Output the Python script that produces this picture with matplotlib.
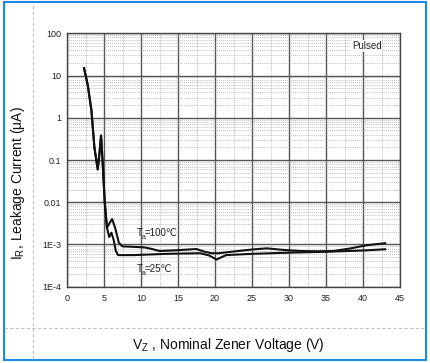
import matplotlib
matplotlib.use("Agg")
import matplotlib.pyplot as plt
from matplotlib.patches import Rectangle
from matplotlib.lines import Line2D
from matplotlib.ticker import FixedLocator, NullFormatter

plt.rcParams["font.family"] = ["Liberation Sans", "DejaVu Sans"]
plt.rcParams["mathtext.fontset"] = "custom"
plt.rcParams["mathtext.rm"] = "Liberation Sans"

# Ta = 100 C  (Vz in V, IR in uA)
v_100 = [2.3, 2.8, 3.3, 3.7, 4.15, 4.4, 4.6, 4.8, 5.1, 5.4, 5.8, 6.1, 6.5,
         7.0, 7.5, 9.0, 10.5, 11.5, 12.5, 14.8, 17.5, 18.5, 19.5, 20.5,
         22.5, 25.0, 27.0, 29.0, 31.5, 34.0, 36.0, 38.2, 40.5, 43.0]
i_100 = [15, 6, 1.5, 0.2, 0.06, 0.15, 0.38, 0.1, 0.01, 0.0025, 0.0033,
         0.004, 0.0025, 0.0011, 0.0009, 0.00088, 0.00085, 0.00078, 0.0007,
         0.00073, 0.00078, 0.00068, 0.00062, 0.00062, 0.00068, 0.00076,
         0.00081, 0.00075, 0.0007, 0.00069, 0.0007, 0.0008, 0.00096, 0.00107]

# Ta = 25 C
v_25 = [2.3, 2.8, 3.3, 3.7, 4.15, 4.4, 4.6, 4.8, 5.1, 5.4, 5.7, 6.0, 6.3,
        6.6, 6.9, 9.0, 13.5, 18.0, 19.2, 20.2, 21.5, 25.0, 30.0, 35.0,
        40.0, 43.0]
i_25 = [15, 6, 1.5, 0.2, 0.06, 0.15, 0.38, 0.1, 0.01, 0.0025, 0.0015,
        0.0019, 0.0013, 0.0007, 0.00056, 0.00056, 0.0006, 0.00062, 0.00055,
        0.00044, 0.00056, 0.0006, 0.00064, 0.00067, 0.00072, 0.00077]

x_ticks = [0, 5, 10, 15, 20, 25, 30, 35, 40, 45]
y_ticks = [1e-4, 1e-3, 1e-2, 1e-1, 1, 10, 100]
y_tick_labels = ["1E-4", "1E-3", "0.01", "0.1", "1", "10", "100"]

fig = plt.figure(figsize=(4.3, 3.63), dpi=100)

# screenshot frame: blue border and gray dashed guides
fig.patches.append(Rectangle((3.5 / 430, 1 - 359.5 / 363), 422.5 / 430, 357.5 / 363,
                             transform=fig.transFigure, fill=False,
                             edgecolor="#1e88e5", linewidth=1.5))
fig.lines.append(Line2D([32.5 / 430, 32.5 / 430], [1 - 359 / 363, 1 - 3 / 363],
                        transform=fig.transFigure, color="#c0c0c0",
                        linestyle=(0, (3, 2)), linewidth=0.8))
fig.lines.append(Line2D([4 / 430, 425 / 430], [1 - 328 / 363, 1 - 328 / 363],
                        transform=fig.transFigure, color="#c0c0c0",
                        linestyle=(0, (3, 2)), linewidth=0.8))

ax = fig.add_axes([67 / 430, 1 - 286.7 / 363, 333 / 430, 253.4 / 363])
ax.set_yscale("log")
ax.set_xlim(0, 45)
ax.set_ylim(1e-4, 100)

ax.set_xticks(x_ticks)
ax.set_xticklabels([str(t) for t in x_ticks])
ax.set_yticks(y_ticks)
ax.set_yticklabels(y_tick_labels)
ax.xaxis.set_minor_locator(FixedLocator([2.5 + 5 * k for k in range(9)]))
minor_y = [m * 10.0 ** e for e in range(-4, 2) for m in range(2, 10)]
ax.yaxis.set_minor_locator(FixedLocator(minor_y))
ax.yaxis.set_minor_formatter(NullFormatter())
ax.tick_params(which="both", length=0, labelsize=6.5, colors="#222222")
ax.tick_params(axis="x", pad=5)
ax.tick_params(axis="y", pad=4)

ax.grid(True, which="major", color="#555555", linewidth=1.0)
ax.grid(True, which="minor", color="#8a8a8a", linestyle=(0, (1, 1.8)), linewidth=0.5)
for s in ax.spines.values():
    s.set_color("#444444")
    s.set_linewidth(1.0)

ax.plot(v_100, i_100, color="#111111", linewidth=1.5)
ax.plot(v_25, i_25, color="#111111", linewidth=1.5)

ax.text(42.5, 50, "Pulsed", fontsize=7, ha="right", va="center", color="#222222",
        bbox=dict(facecolor="white", edgecolor="none", pad=0.5))

for lab, y in (("=100\u2103", 0.00158), ("=25\u2103", 0.000221)):
    ax.annotate("T", (9.46, y), fontsize=7, ha="left", va="baseline", color="#222222")
    ax.annotate("a", (9.46, y), xytext=(3.6, -2.2), textcoords="offset points",
                fontsize=5, ha="left", va="baseline", color="#222222")
    ax.annotate(lab, (9.46, y), xytext=(5.6, 0), textcoords="offset points",
                fontsize=7, ha="left", va="baseline", color="#222222")

fig.text(18 / 430, 1 - 183 / 363, r"I$_\mathrm{R}$, Leakage Current (μA)",
         rotation=90, ha="center", va="center", fontsize=10, color="#111111")
fig.text(228 / 430, 1 - 345 / 363, r"V$_\mathrm{Z}$ , Nominal Zener Voltage (V)",
         ha="center", va="center", fontsize=10, color="#111111")

fig.savefig("out.png", dpi=100)
